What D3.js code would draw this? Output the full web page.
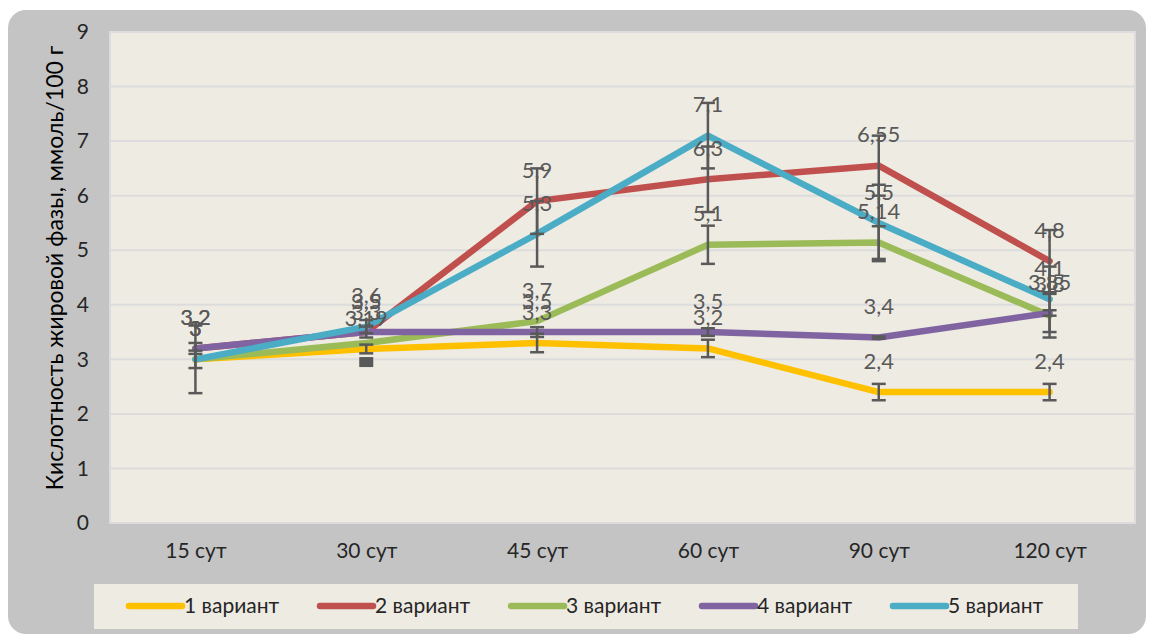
<!DOCTYPE html>
<html>
<head>
<meta charset="utf-8">
<script src="https://cdn.jsdelivr.net/npm/d3@7"></script>
<style>
  body { margin: 0; background: #fff; }
  text { font-family: Lato, "Liberation Sans", sans-serif; }
</style>
</head>
<body>
<div id="chart"></div>
<script>
const categories = ["15 сут", "30 сут", "45 сут", "60 сут", "90 сут", "120 сут"];
const seriesNames = ["1 вариант", "2 вариант", "3 вариант", "4 вариант", "5 вариант"];
const colors = ["#FFC000", "#C0504D", "#9BBB59", "#8064A2", "#4BACC6"];

const v1 = [3.0, 3.19, 3.3, 3.2, 2.4, 2.4];
const v2 = [3.2, 3.5, 5.9, 6.3, 6.55, 4.8];
const v3 = [3.0, 3.3, 3.7, 5.1, 5.14, 3.8];
const v4 = [3.2, 3.5, 3.5, 3.5, 3.4, 3.85];
const v5 = [3.0, 3.6, 5.3, 7.1, 5.5, 4.1];

// +/- error per point (null = no bar)
const e1 = [0.62, 0.08, 0.17, 0.16, 0.15, 0.15];
const e2 = [null, null, 0.6, 0.6, 0.55, 0.57];
const e3 = [0.16, null, null, 0.35, 0.3, 0.4];
const e4 = [0.1, 0.1, 0.09, 0.07, 0.02, 0.05];
const e5 = [null, 0.12, 0.6, 0.6, 0.7, 0.6];

// stray square marker seen at 30 сут
const squareMarks = [{ cat: "30 сут", value: 2.95 }];

const yTicks = [0, 1, 2, 3, 4, 5, 6, 7, 8, 9];

const values = [v1, v2, v3, v4, v5];
const errors = [e1, e2, e3, e4, e5];

const width = 1150, height = 637;
const plot = { left: 110, right: 1135, top: 32, bottom: 523 };

const svg = d3.select("#chart").append("svg")
  .attr("width", width)
  .attr("height", height);

// outer frame
svg.append("rect")
  .attr("x", 8).attr("y", 10)
  .attr("width", 1138).attr("height", 624)
  .attr("rx", 18)
  .attr("fill", "#c4c4c4");

const x = d3.scalePoint()
  .domain(categories)
  .range([plot.left, plot.right])
  .padding(0.5);

const y = d3.scaleLinear()
  .domain([0, 9])
  .range([plot.bottom, plot.top]);

// plot area
svg.append("rect")
  .attr("x", plot.left).attr("y", plot.top)
  .attr("width", plot.right - plot.left)
  .attr("height", plot.bottom - plot.top)
  .attr("fill", "#eeebe3")
  .attr("stroke", "#dcdcdc")
  .attr("stroke-width", 2);

// gridlines
svg.append("g")
  .selectAll("line")
  .data(yTicks)
  .enter()
  .append("line")
  .attr("x1", plot.left).attr("x2", plot.right)
  .attr("y1", (d) => y(d)).attr("y2", (d) => y(d))
  .attr("stroke", "#dcdcdc")
  .attr("stroke-width", 2);

// y axis
const yAxis = svg.append("g")
  .attr("transform", `translate(${plot.left},0)`)
  .call(d3.axisLeft(y).tickValues(yTicks).tickSize(0).tickPadding(21));
yAxis.select(".domain").remove();
yAxis.selectAll("text")
  .style("font-size", "21px")
  .attr("fill", "#262626");

// x axis
const xAxis = svg.append("g")
  .attr("transform", `translate(0,${plot.bottom})`)
  .call(d3.axisBottom(x).tickSize(0).tickPadding(20));
xAxis.select(".domain").remove();
xAxis.selectAll("text")
  .style("font-size", "21px")
  .attr("fill", "#262626");

// y axis title
svg.append("text")
  .attr("transform", "translate(63,268) rotate(-90)")
  .attr("text-anchor", "middle")
  .style("font-size", "23px")
  .attr("fill", "#000")
  .text("Кислотность жировой фазы, ммоль/100 г");

const line = d3.line()
  .x((d, i) => x(categories[i]))
  .y((d) => y(d));

// lines
svg.append("g")
  .selectAll("path")
  .data(values)
  .enter()
  .append("path")
  .attr("d", (d) => line(d))
  .attr("fill", "none")
  .attr("stroke", (_, i) => colors[i])
  .attr("stroke-width", 6.5)
  .attr("stroke-linejoin", "round")
  .attr("stroke-linecap", "round");

// error bars
const errData = [];
values.forEach((vals, s) => {
  vals.forEach((v, i) => {
    if (errors[s][i] != null) errData.push({ cat: categories[i], v: v, e: errors[s][i] });
  });
});

const eb = svg.append("g")
  .attr("stroke", "#595959")
  .attr("stroke-width", 2.5);

eb.selectAll(".bar")
  .data(errData)
  .enter()
  .append("line")
  .attr("x1", (d) => x(d.cat)).attr("x2", (d) => x(d.cat))
  .attr("y1", (d) => y(d.v - d.e)).attr("y2", (d) => y(d.v + d.e));

eb.selectAll(".capTop")
  .data(errData)
  .enter()
  .append("line")
  .attr("x1", (d) => x(d.cat) - 7).attr("x2", (d) => x(d.cat) + 7)
  .attr("y1", (d) => y(d.v + d.e)).attr("y2", (d) => y(d.v + d.e));

eb.selectAll(".capBottom")
  .data(errData)
  .enter()
  .append("line")
  .attr("x1", (d) => x(d.cat) - 7).attr("x2", (d) => x(d.cat) + 7)
  .attr("y1", (d) => y(d.v - d.e)).attr("y2", (d) => y(d.v - d.e));

svg.append("g")
  .selectAll("rect")
  .data(squareMarks)
  .enter()
  .append("rect")
  .attr("x", (d) => x(d.cat) - 7)
  .attr("y", (d) => y(d.value) - 5)
  .attr("width", 14).attr("height", 10)
  .attr("fill", "#595959");

// data labels
const labelData = [];
values.forEach((vals, s) => {
  vals.forEach((v, i) => labelData.push({ cat: categories[i], v: v }));
});

svg.append("g")
  .selectAll("text")
  .data(labelData)
  .enter()
  .append("text")
  .attr("x", (d) => x(d.cat))
  .attr("y", (d) => y(d.v) - 31)
  .attr("dy", "0.35em")
  .attr("text-anchor", "middle")
  .style("font-size", "22px")
  .attr("fill", "#595959")
  .text((d) => String(d.v).replace(".", ","));

// legend
const legend = svg.append("g");
legend.append("rect")
  .attr("x", 94).attr("y", 584)
  .attr("width", 984).attr("height", 45)
  .attr("fill", "#eeebe3");

const items = legend.selectAll("g")
  .data(seriesNames)
  .enter()
  .append("g")
  .attr("transform", (_, i) => `translate(${127 + i * 191},606)`);

items.append("line")
  .attr("x1", 2).attr("x2", 55)
  .attr("stroke", (_, i) => colors[i])
  .attr("stroke-width", 6.5)
  .attr("stroke-linecap", "round");

items.append("text")
  .attr("x", 57)
  .attr("dy", "0.35em")
  .style("font-size", "21px")
  .attr("fill", "#262626")
  .text((d) => d);
</script>
</body>
</html>
